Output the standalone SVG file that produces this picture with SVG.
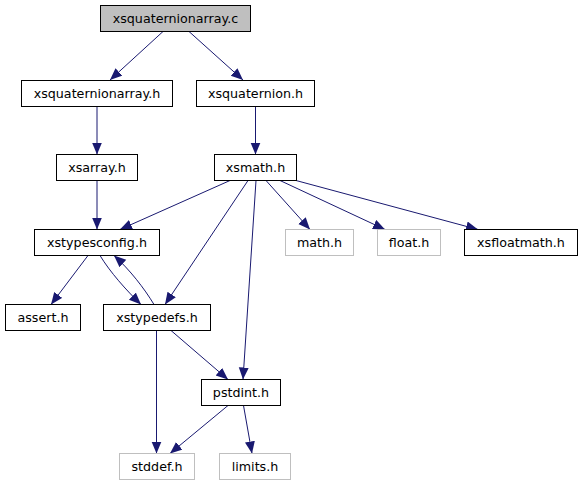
<svg xmlns="http://www.w3.org/2000/svg" width="583" height="485" viewBox="0 0 583 485">
<defs>
<marker id="ah" markerUnits="userSpaceOnUse" markerWidth="13" markerHeight="11" refX="12" refY="5" orient="auto">
<path d="M0,0 L12,5 L0,10 z" fill="#191970"/>
</marker>
<style>
.n rect{fill:#fff;stroke:#000;stroke-width:1}
.g rect{fill:#fff;stroke:#bfbfbf;stroke-width:1}
.root rect{fill:#bfbfbf;stroke:#000;stroke-width:1}
text{font-family:"DejaVu Sans",sans-serif;font-size:12.7px;text-anchor:middle;fill:#000}
.e path{fill:none;stroke:#191970;stroke-width:1;marker-end:url(#ah)}
</style>
</defs>
<rect width="583" height="485" fill="#fff"/>
<g id="edges" class="e">
<path d="M163,31.5 L110,80"/>
<path d="M189,31.5 L243,80"/>
<path d="M97,106 L97,154.5"/>
<path d="M255.5,106 L255.5,154.5"/>
<path d="M97,180.5 L97,229.5"/>
<path d="M230,180.5 L120,229.5"/>
<path d="M248,180.5 L165,304.5"/>
<path d="M256,180.5 L243,379.5"/>
<path d="M266,180.5 L310,229.5"/>
<path d="M280,180.5 L385,229.5"/>
<path d="M296,180.5 L478,229.5"/>
<path d="M88,255.5 L51,304.5"/>
<path d="M100,255.5 C110,272 126,290 141,304.5"/>
<path d="M154,304.5 C144,288 130,270 114,255.5"/>
<path d="M156.5,330.5 L156.5,453.5"/>
<path d="M171,330.5 L228,379.5"/>
<path d="M228,405.5 L170,453.5"/>
<path d="M243.5,405.5 L252,453.5"/>
</g>
<g id="n_xsquaternionarray_c" class="root"><rect x="100.5" y="5.5" width="150" height="26"/><text x="175.5" y="23">xsquaternionarray.c</text></g>
<g id="n_xsquaternionarray_h" class="n"><rect x="21.5" y="80.5" width="151" height="26"/><text x="97" y="98">xsquaternionarray.h</text></g>
<g id="n_xsquaternion_h" class="n"><rect x="196.5" y="80.5" width="118" height="26"/><text x="255.5" y="98">xsquaternion.h</text></g>
<g id="n_xsarray_h" class="n"><rect x="56.5" y="154.5" width="81" height="26"/><text x="97" y="172">xsarray.h</text></g>
<g id="n_xsmath_h" class="n"><rect x="214.5" y="154.5" width="82" height="26"/><text x="255.5" y="172">xsmath.h</text></g>
<g id="n_xstypesconfig_h" class="n"><rect x="34.5" y="229.5" width="125" height="26"/><text x="97" y="247">xstypesconfig.h</text></g>
<g id="n_math_h" class="g"><rect x="285.5" y="229.5" width="68" height="26"/><text x="319.5" y="247">math.h</text></g>
<g id="n_float_h" class="g"><rect x="377.5" y="229.5" width="63" height="26"/><text x="409" y="247">float.h</text></g>
<g id="n_xsfloatmath_h" class="n"><rect x="464.5" y="229.5" width="113" height="26"/><text x="521" y="247">xsfloatmath.h</text></g>
<g id="n_assert_h" class="n"><rect x="5.5" y="304.5" width="75" height="26"/><text x="43" y="322">assert.h</text></g>
<g id="n_xstypedefs_h" class="n"><rect x="103.5" y="304.5" width="107" height="26"/><text x="157" y="322">xstypedefs.h</text></g>
<g id="n_pstdint_h" class="n"><rect x="201.5" y="379.5" width="79" height="26"/><text x="241" y="397">pstdint.h</text></g>
<g id="n_stddef_h" class="g"><rect x="119.5" y="453.5" width="75" height="26"/><text x="157" y="471">stddef.h</text></g>
<g id="n_limits_h" class="g"><rect x="219.5" y="453.5" width="71" height="26"/><text x="255" y="471">limits.h</text></g>
</svg>
